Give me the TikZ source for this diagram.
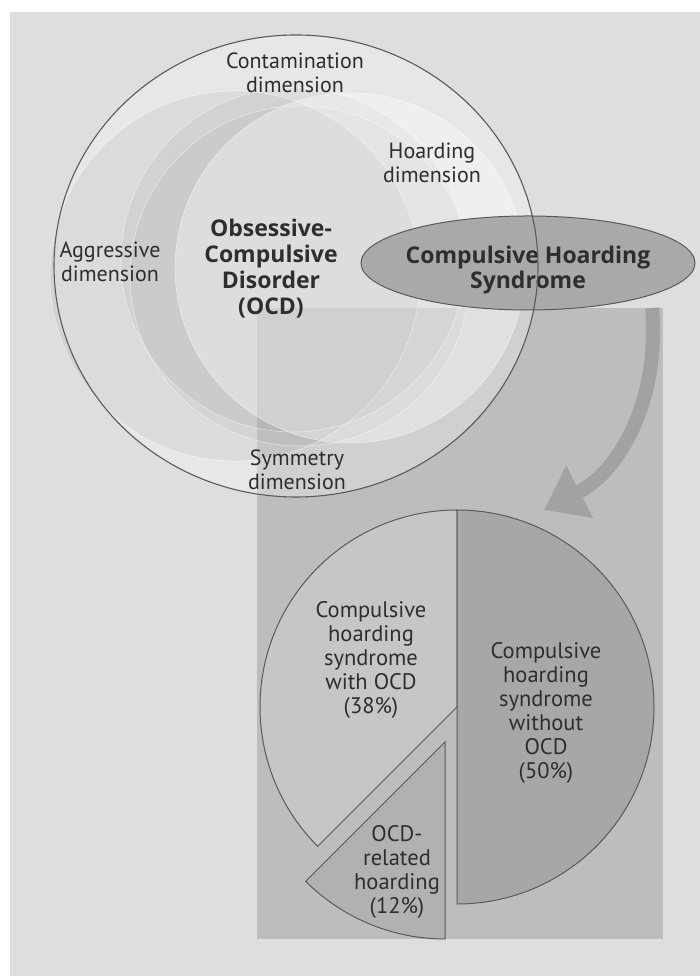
\documentclass[tikz,border=0pt]{standalone}
\usepackage{fontspec}
\setmainfont{PT Sans}
\newfontfamily\headfont{Open Sans}
\usetikzlibrary{arrows.meta,positioning,shapes.geometric}

\definecolor{panelgray}{HTML}{DEDEDE}
\definecolor{boxgray}{HTML}{BDBDBD}
\definecolor{edgegray}{HTML}{5A5A5A}
\definecolor{inkgray}{HTML}{2E2E2E}
\definecolor{chsgray}{HTML}{A9A9A9}
\definecolor{arrowgray}{HTML}{A2A2A2}
\definecolor{withgray}{HTML}{C6C6C6}
\definecolor{withoutgray}{HTML}{A7A7A7}
\definecolor{relgray}{HTML}{B1B1B1}

\tikzset{
  dimlabel/.style={font=\fontsize{22}{23.5}\selectfont, text=inkgray, align=center},
  ocdlabel/.style={font=\headfont\bfseries\fontsize{23}{26}\selectfont, text=inkgray, align=center},
  pielabel/.style={font=\fontsize{22.5}{24}\selectfont, text=inkgray, align=center},
  slice/.style={draw=edgegray, line width=1pt},
  dimcircle/.style={draw=white, draw opacity=0.45, line width=0.7pt}
}

\begin{document}
\begin{tikzpicture}[x=1pt,y=1pt]
    \useasboundingbox (0,0) rectangle (700,976);
    \fill[white] (0,0) rectangle (700,976);
    \fill[panelgray] (10,0) rectangle (700,964);

    % backing box of the lower part
    \fill[boxgray] (257,37) rectangle (663,668);

    % OCD circle with its four dimensions
    \coordinate (ocdc) at (296,710);
    \fill[white, fill opacity=0.3] (ocdc) ellipse [x radius=242, y radius=231];
    \fill[black, fill opacity=0.05] (235,700) circle [radius=185];
    \fill[black, fill opacity=0.04] (293,716) circle [radius=172];
    \fill[black, fill opacity=0.03] (300,700) circle [radius=170];
    \fill[white, fill opacity=0.35] (350,708) circle [radius=175];
    \draw[dimcircle] (235,700) circle [radius=185];
    \draw[dimcircle] (293,716) circle [radius=172];
    \draw[dimcircle] (300,700) circle [radius=170];
    \draw[dimcircle] (350,708) circle [radius=175];

    \node[dimlabel] (contam) at (295,903) {Contamination\\dimension};
    \node[dimlabel] (hoarddim) at (432,813) {Hoarding\\dimension};
    \node[dimlabel] (aggr) at (110,714) {Aggressive\\dimension};
    \node[dimlabel] (symm) at (297,506) {Symmetry\\dimension};
    \node[ocdlabel] (ocd) at (271,707) {Obsessive-\\Compulsive\\Disorder\\(OCD)};

    % compulsive hoarding syndrome
    \node[ellipse, draw=edgegray, line width=1pt, fill=chsgray,
          minimum width=334, minimum height=94, inner sep=0pt] (chs) at (528,713) {};
    \node[font=\headfont\bfseries\fontsize{23}{25}\selectfont, text=inkgray, align=center]
          (chstext) at ([yshift=-7pt]chs.center) {Compulsive Hoarding\\Syndrome};

    \draw[edgegray, line width=1.1pt] (ocdc) ellipse [x radius=242, y radius=231];

    % curved arrow down to the pie
    \coordinate (arrfrom) at (652,668);
    \coordinate (arrto) at (544,466);
    \draw[arrowgray, line width=14pt, -{Triangle[length=40pt,width=56pt]}]
        (arrfrom) .. controls (660,580) and (622,506) .. (arrto);

    % pie chart
    \coordinate (pc) at (457,269);
    \coordinate (pcx) at (445,234);
    \filldraw[slice, fill=withgray] (pc) -- ++(90:197) arc[start angle=90, end angle=225, radius=197] -- cycle;
    \filldraw[slice, fill=withoutgray] (pc) -- ++(-90:197) arc[start angle=-90, end angle=90, radius=197] -- cycle;
    \filldraw[slice, fill=relgray] (pcx) -- ++(225:197) arc[start angle=225, end angle=270, radius=197] -- cycle;

    \node[pielabel] (withocd) at (371,316) {Compulsive\\hoarding\\syndrome\\with OCD\\(38\%)};
    \node[pielabel] (withoutocd) at (546,263) {Compulsive\\hoarding\\syndrome\\without\\OCD\\(50\%)};
    \node[pielabel] (related) at (397,104) {OCD-\\related\\hoarding\\(12\%)};
\end{tikzpicture}
\end{document}
